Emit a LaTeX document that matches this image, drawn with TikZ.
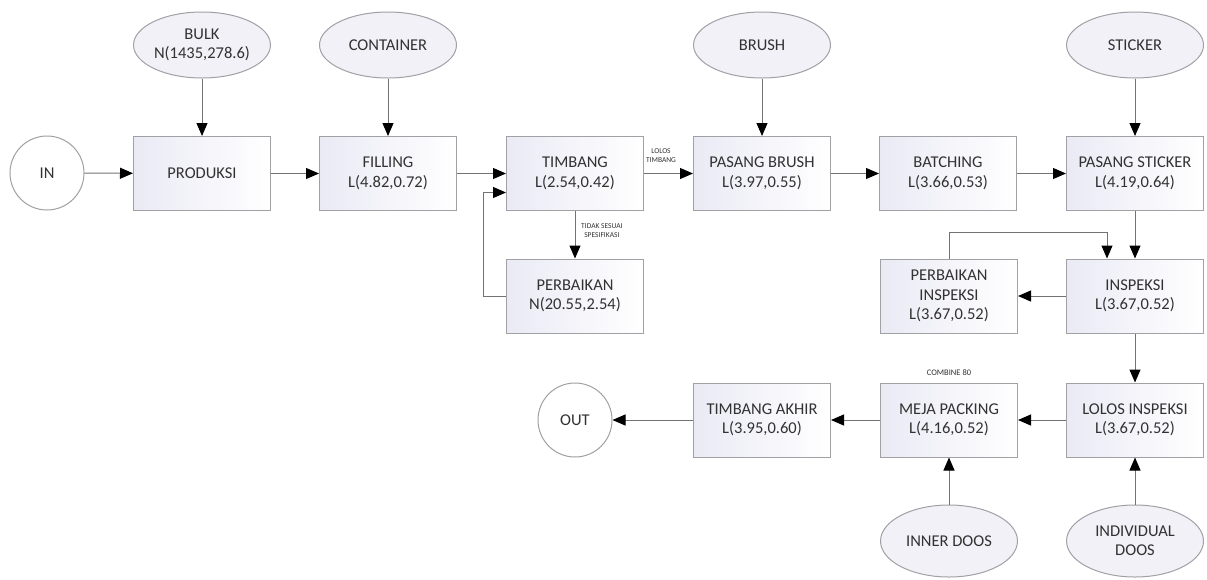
\documentclass[tikz,border=0pt]{standalone}
\usepackage{fontspec}
\setmainfont{Carlito}
\usetikzlibrary{arrows.meta,shapes.geometric}
\definecolor{linec}{RGB}{115,115,115}
\definecolor{bordc}{RGB}{160,160,165}
\definecolor{boxl}{RGB}{234,234,245}
\definecolor{ellf}{RGB}{241,241,247}
\definecolor{txtc}{RGB}{50,50,50}
\tikzset{
  box/.style={draw=bordc, line width=1pt, left color=boxl, right color=white,
    minimum width=137pt, minimum height=74pt, inner sep=0pt, align=center,
    text=txtc, font=\fontsize{16.5}{19.5}\selectfont},
  oval/.style={ellipse, draw=bordc, line width=1pt, fill=ellf,
    minimum width=137pt, minimum height=66pt, inner sep=0pt, align=center,
    text=txtc, font=\fontsize{16.5}{19.5}\selectfont},
  circ/.style={circle, draw=bordc, line width=1pt, fill=white,
    minimum size=74pt, inner sep=0pt, text=txtc, font=\fontsize{16.5}{19.5}\selectfont},
  conn/.style={draw=linec, line width=1pt, -{Triangle[length=13pt,width=11pt,color=black]}},
  small/.style={text=txtc, font=\fontsize{7.5}{9}\selectfont, align=center, inner sep=0pt}
}
\begin{document}
\begin{tikzpicture}[x=1pt,y=-1pt]
\useasboundingbox (0,0) rectangle (1207,579);
% top row
\node[circ] (in) at (47,173) {IN};
\node[box] (prod) at (202,173.5) {PRODUKSI};
\node[box] (fill) at (388,173.5) {FILLING\\L(4.82,0.72)};
\node[box] (timb) at (575,173.5) {TIMBANG\\L(2.54,0.42)};
\node[box] (brush) at (762,173.5) {PASANG BRUSH\\L(3.97,0.55)};
\node[box] (batch) at (948,173.5) {BATCHING\\L(3.66,0.53)};
\node[box] (stick) at (1135,173.5) {PASANG STICKER\\L(4.19,0.64)};
% ovals top
\node[oval] (bulk) at (202,45) {BULK\\N(1435,278.6)};
\node[oval] (cont) at (388,45) {CONTAINER};
\node[oval] (brushE) at (762,45) {BRUSH};
\node[oval] (stickE) at (1135,45) {STICKER};
% middle row
\node[box] (perb) at (575,296) {PERBAIKAN\\N(20.55,2.54)};
\node[box] (pinsp) at (949,296) {PERBAIKAN\\INSPEKSI\\L(3.67,0.52)};
\node[box] (insp) at (1135,296) {INSPEKSI\\L(3.67,0.52)};
% bottom row
\node[box] (lolos) at (1135,420) {LOLOS INSPEKSI\\L(3.67,0.52)};
\node[box] (meja) at (949,420) {MEJA PACKING\\L(4.16,0.52)};
\node[box] (takhir) at (762,420) {TIMBANG AKHIR\\L(3.95,0.60)};
\node[circ] (out) at (575,420) {OUT};
\node[oval, minimum height=72pt] (inner) at (949,541) {INNER DOOS};
\node[oval, minimum height=72pt] (indiv) at (1135,541) {INDIVIDUAL\\DOOS};
% labels
\node[small] (lbllolos) at (661,156) {LOLOS\\TIMBANG};
\node[small, anchor=west] (lbltidak) at (581,231) {TIDAK SESUAI\\SPESIFIKASI};
\node[small, font=\fontsize{8.5}{10}\selectfont] (lblcomb) at (949,373) {COMBINE 80};
% connectors
\draw[conn] (in) -- (prod);
\draw[conn] (prod) -- (fill);
\draw[conn] (fill) -- (timb);
\draw[conn] (timb) -- (brush);
\draw[conn] (brush) -- (batch);
\draw[conn] (batch) -- (stick);
\draw[conn] (bulk) -- (prod);
\draw[conn] (cont) -- (fill);
\draw[conn] (brushE) -- (brush);
\draw[conn] (stickE) -- (stick);
\draw[conn] (timb) -- (perb);
\draw[conn] (perb.west) -- ++(-23,0) |- ([yshift=-19pt]timb.west);
\draw[conn] (stick) -- (insp);
\draw[conn] (insp) -- (pinsp);
\draw[conn] (pinsp.north) -- ++(0,-26) -| ([xshift=-28pt]insp.north);
\draw[conn] (insp) -- (lolos);
\draw[conn] (lolos) -- (meja);
\draw[conn] (meja) -- (takhir);
\draw[conn] (takhir) -- (out);
\draw[conn] (inner) -- (meja);
\draw[conn] (indiv) -- (lolos);
\end{tikzpicture}
\end{document}
